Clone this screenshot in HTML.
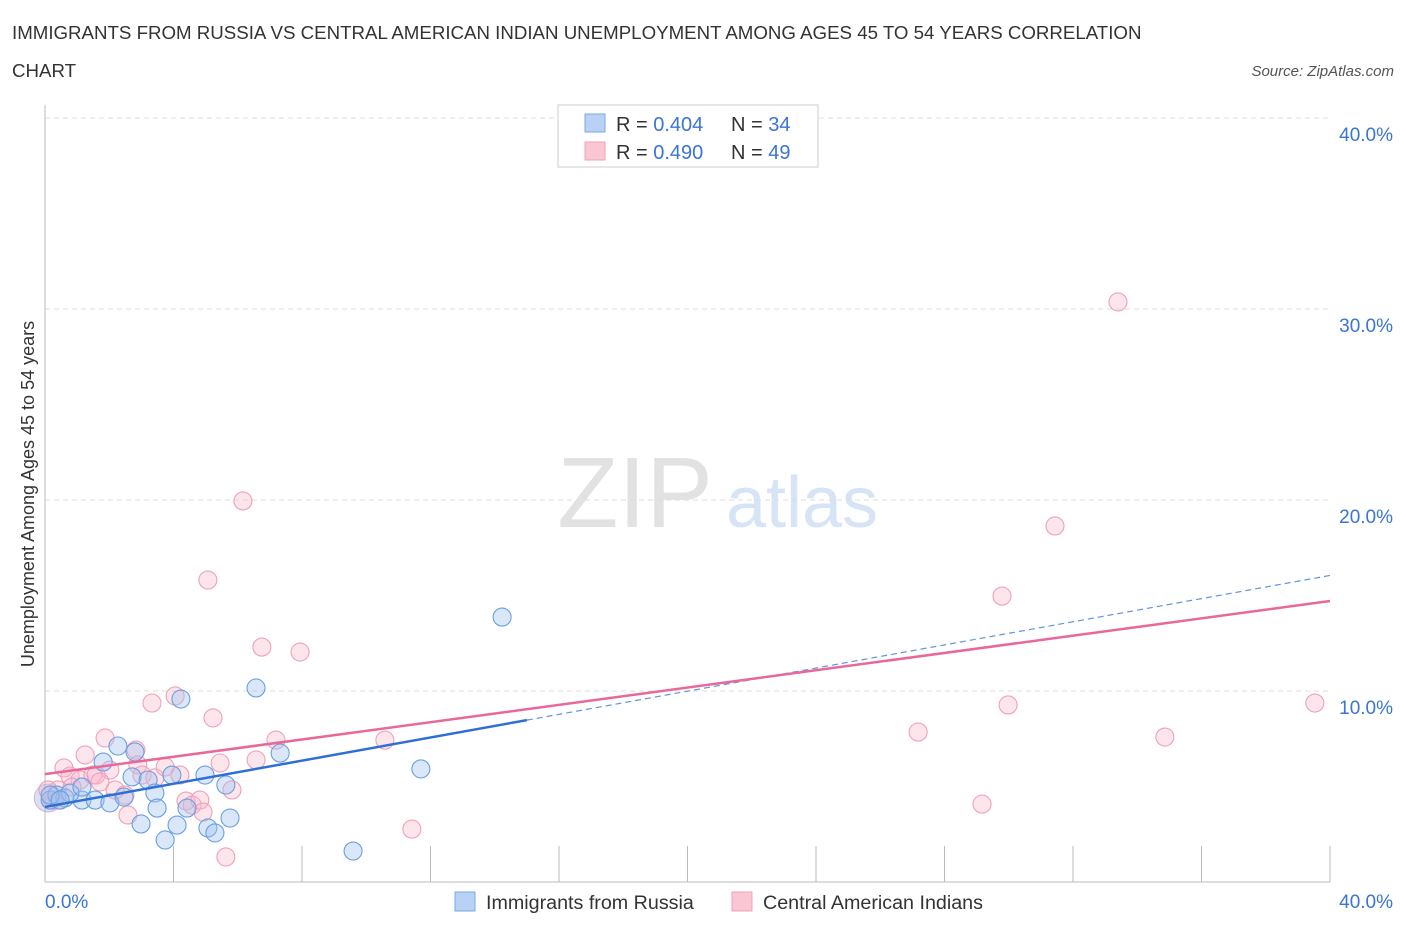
<!DOCTYPE html>
<html><head><meta charset="utf-8"><style>
body{margin:0;background:#fff;font-family:"Liberation Sans",sans-serif;}
svg text{font-family:"Liberation Sans",sans-serif;}
</style></head><body>
<svg width="1406" height="930" xmlns="http://www.w3.org/2000/svg">
<text x="12" y="39" font-size="18.7" fill="#333">IMMIGRANTS FROM RUSSIA VS CENTRAL AMERICAN INDIAN UNEMPLOYMENT AMONG AGES 45 TO 54 YEARS CORRELATION</text>
<text x="12" y="77" font-size="18.7" fill="#333">CHART</text>
<text x="1394" y="76" font-size="15" fill="#555" text-anchor="end" font-style="italic">Source: ZipAtlas.com</text>
<text x="635" y="527" font-size="100" fill="#e2e2e2" text-anchor="middle" font-family="Liberation Serif">ZIP</text>
<text x="802" y="527" font-size="72" fill="#d6e4f5" text-anchor="middle">atlas</text>
<g id="grid"></g>
<g id="axes"></g>
<text transform="translate(34,494) rotate(-90)" font-size="18" fill="#333" text-anchor="middle">Unemployment Among Ages 45 to 54 years</text>
<g id="marks"></g>
<g>
<rect x="558" y="105" width="260" height="62" fill="#fff" stroke="#ccc"/>
<rect x="585" y="114" width="20" height="18" fill="#b8d1f5" stroke="#7aa7e6"/>
<rect x="585" y="142" width="20" height="18" fill="#fac6d4" stroke="#f0a0b8"/>
<text x="616" y="131" font-size="20" fill="#333">R = <tspan fill="#3a74d6">0.404</tspan></text>
<text x="731" y="131" font-size="20" fill="#333">N = <tspan fill="#3a74d6">34</tspan></text>
<text x="616" y="159" font-size="20" fill="#333">R = <tspan fill="#3a74d6">0.490</tspan></text>
<text x="731" y="159" font-size="20" fill="#333">N = <tspan fill="#3a74d6">49</tspan></text>
</g>
<g>
<rect x="455" y="892" width="20" height="19" fill="#b8d1f5" stroke="#7aa7e6"/>
<text x="486" y="909" font-size="19.7" fill="#333">Immigrants from Russia</text>
<rect x="732" y="892" width="20" height="19" fill="#fac6d4" stroke="#f0a0b8"/>
<text x="763" y="909" font-size="19.7" fill="#333">Central American Indians</text>
</g>
</svg>
<script>
const yTicks=[10,20,30,40];
const yTickLabels=["10.0%","20.0%","30.0%","40.0%"];
const xTickLabels=["0.0%","40.0%"];
const blueX=[0.16,0.37,0.62,1.15,0.78,1.56,1.15,1.81,2.02,2.27,2.46,2.71,2.80,2.99,3.21,3.42,3.49,3.74,3.95,4.11,4.23,4.42,4.98,5.07,5.29,5.63,5.76,6.57,7.32,9.59,11.70,14.23,0.16,0.47];
const blueY=[4.29,4.55,4.40,4.29,4.66,4.29,4.97,6.28,4.14,7.12,4.45,5.50,6.81,3.04,5.34,4.66,3.87,2.20,5.60,2.98,9.58,3.87,5.60,2.83,2.57,5.08,3.35,10.16,6.75,1.62,5.92,13.87,4.55,4.29];
const pinkX=[0.22,0.40,0.59,0.78,1.25,1.09,1.49,1.59,1.87,2.02,2.18,2.49,2.58,2.83,2.89,3.02,3.33,3.42,3.74,4.05,4.20,4.39,4.58,4.82,4.92,5.07,5.23,5.45,5.63,5.82,6.16,6.57,6.75,7.19,7.94,10.58,11.42,27.18,29.17,29.79,29.98,31.44,33.40,34.86,39.53,1.71,0.09,0.84,0.40];
const pinkY=[4.29,4.82,5.97,5.55,6.65,5.34,5.60,5.60,7.54,5.86,4.82,4.55,3.51,6.91,6.13,5.60,9.37,5.45,6.02,9.74,5.60,4.24,4.03,4.29,3.66,15.81,8.59,6.23,1.31,4.82,19.95,6.39,12.30,7.43,12.04,7.43,2.77,7.85,4.08,14.97,9.27,18.64,30.37,7.59,9.37,5.24,4.82,4.97,4.29];
const blueTrend=[3.93,0.303];
const pinkTrend=[5.65,0.2265];
const blueSolidEnd=15.0;
const NS="http://www.w3.org/2000/svg";
const X=v=>45+v*32.125, Y=v=>882-v*19.1;
function mk(t,a,p){const e=document.createElementNS(NS,t);for(const k in a)e.setAttribute(k,a[k]);p.appendChild(e);return e;}
const grid=document.getElementById('grid'),axes=document.getElementById('axes'),marks=document.getElementById('marks');
yTicks.forEach((t,i)=>{
 const l=mk('line',{x1:45,x2:1330,y1:Y(t),y2:Y(t),stroke:'#ddd','stroke-dasharray':'5,4'},grid);
 
 
 const tx=mk('text',{x:1393,y:Y(t)+23,'font-size':19,fill:'#3a74d6','text-anchor':'end'},axes);
 tx.textContent=yTickLabels[i];
 
 
});
const ax=mk('line',{x1:45,x2:45,y1:105,y2:882,stroke:'#bbb'},axes);


const bx=mk('line',{x1:45,x2:1330,y1:882,y2:882,stroke:'#bbb'},axes);


for(let i=0;i<=10;i++){const t=mk('line',{x1:X(i*4),x2:X(i*4),y1:846,y2:882,stroke:'#bbb'},axes);
 
 }
[[0,45,'start'],[40,1393,'end']].forEach((d,i)=>{const t=mk('text',{x:d[1],y:908,'font-size':19,fill:'#3a74d6','text-anchor':d[2]},axes);t.textContent=xTickLabels[i];
 
 });
function pts(xs,ys,fill,stroke,name){xs.forEach((x,i)=>{const c=mk('circle',{cx:X(x),cy:Y(ys[i]),r:9,fill:fill,stroke:stroke,'stroke-width':1.1},marks);
 
 });}
const big=mk('circle',{cx:X(0.1),cy:Y(4.4),r:14,fill:'rgba(170,160,220,0.35)',stroke:'rgba(150,140,210,0.5)'},marks);


pts(pinkX,pinkY,'rgba(248,180,200,0.35)','#f0a0b8','point-central-american-indian');
pts(blueX,blueY,'rgba(160,196,240,0.4)','#6a9fe0','point-russia');
let l=mk('line',{x1:X(0),y1:Y(blueTrend[0]),x2:X(blueSolidEnd),y2:Y(blueTrend[0]+blueTrend[1]*blueSolidEnd),stroke:'#2e6fd6','stroke-width':2.5},marks);


l=mk('line',{x1:X(blueSolidEnd),y1:Y(blueTrend[0]+blueTrend[1]*blueSolidEnd),x2:X(40),y2:Y(blueTrend[0]+blueTrend[1]*40),stroke:'#5f95dd','stroke-width':1.2,'stroke-dasharray':'6,4'},marks);


l=mk('line',{x1:X(0),y1:Y(pinkTrend[0]),x2:X(40),y2:Y(pinkTrend[0]+pinkTrend[1]*40),stroke:'#e8689a','stroke-width':2.5},marks);


</script>
</body></html>
